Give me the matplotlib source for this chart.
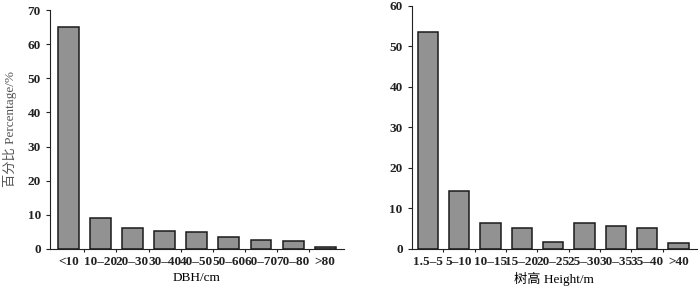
import numpy as np
import matplotlib
matplotlib.use("Agg")
import matplotlib.pyplot as plt
from matplotlib.ticker import FixedLocator

# DBH classes
dbh_labels = ['<10', '10–20', '20–30', '30–40', '40–50', '50–60', '60–70', '70–80', '>80']
dbh_values = [65.0, 9.2, 6.0, 5.3, 5.0, 3.6, 2.5, 2.2, 0.6]

# Height classes
height_labels = ['1.5–5', '5–10', '10–15', '15–20', '20–25', '25–30', '30–35', '35–40', '>40']
height_values = [53.5, 14.2, 6.3, 5.1, 1.8, 6.3, 5.7, 5.1, 1.5]

FONT = ['Liberation Serif', 'Noto Sans CJK SC']
plt.rcParams['font.family'] = FONT
plt.rcParams['font.size'] = 9.5
plt.rcParams['font.weight'] = 'bold'
plt.rcParams['text.color'] = '#222222'
plt.rcParams['xtick.color'] = '#222222'
plt.rcParams['ytick.color'] = '#222222'


def draw_bars(ax, labels, values, ymax, xlabel, xlim):
    x = np.arange(len(labels))
    ax.bar(x, values, width=0.65, color='#929292', edgecolor='#1a1a1a', linewidth=1.1)
    ax.set_xlim(*xlim)
    ax.set_ylim(0, ymax)
    ax.set_yticks(np.arange(0, ymax + 1, 10))
    ax.set_xticks(x)
    ax.set_xticklabels(labels)
    ax.tick_params(axis='x', length=0, pad=5)
    ax.xaxis.set_minor_locator(FixedLocator(x[:-1] + 0.5))
    ax.tick_params(axis='x', which='minor', length=2, direction='out', width=0.8)
    ax.tick_params(axis='y', length=3, direction='out', width=0.8)
    for s in ['top', 'right']:
        ax.spines[s].set_visible(False)
    for s in ['left', 'bottom']:
        ax.spines[s].set_linewidth(0.8)
        ax.spines[s].set_color('#222222')
    ax.set_xlabel(xlabel, labelpad=3)


fig = plt.figure(figsize=(6.99, 2.96), dpi=100)
ax1 = fig.add_axes([0.0715, 0.159, 0.42, 0.807])
ax2 = fig.add_axes([0.589, 0.159, 0.408, 0.821])

draw_bars(ax1, dbh_labels, dbh_values, 70, 'DBH/cm', (-0.57, 8.57))
ax1.set_ylabel('百分比 Percentage/%', labelpad=8, color='#555555', fontweight='normal')
draw_bars(ax2, height_labels, height_values, 60, '树高 Height/m', (-0.51, 8.59))

fig.savefig('out.png', dpi=100)
